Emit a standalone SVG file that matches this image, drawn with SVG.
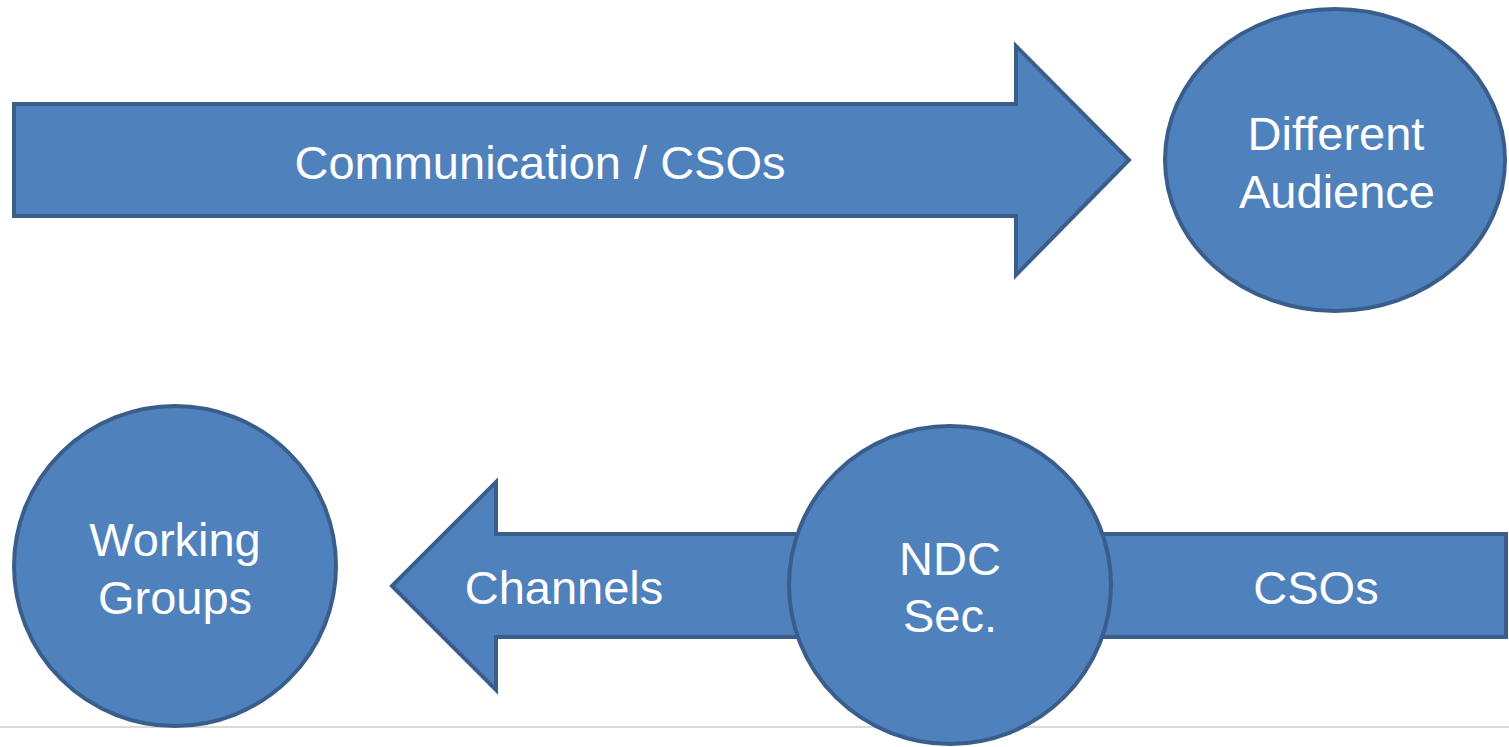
<svg xmlns="http://www.w3.org/2000/svg" width="1509" height="747" viewBox="0 0 1509 747">
<style>
.shape{fill:#4f81bd;stroke:#3a5e8c;stroke-width:4;stroke-linejoin:miter}
.lbl{fill:#ffffff;font-family:"Liberation Sans",Arial,sans-serif;font-size:47px;text-anchor:middle}
</style>
<rect x="0" y="0" width="1509" height="747" fill="#ffffff"/>
<line x1="0" y1="727" x2="1509" y2="727" stroke="#d9d9d9" stroke-width="2"/>
<g id="connectors">
<g id="arrow-communication">
<polygon class="shape" points="14,104 1016,104 1016,46 1129,160 1016,275 1016,216 14,216"/>
<text class="lbl" x="540" y="179">Communication / CSOs</text>
</g>
<g id="arrow-channels">
<polygon class="shape" stroke-linejoin="round" points="392,586 496,482 496,534 900,534 900,637 496,637 496,690"/>
<text class="lbl" x="564" y="604">Channels</text>
</g>
<g id="bar-csos">
<rect class="shape" x="1000" y="534" width="506" height="103"/>
<text class="lbl" x="1316" y="604">CSOs</text>
</g>
</g>
<g id="node-different-audience">
<ellipse class="shape" cx="1335" cy="160" rx="170" ry="151"/>
<text class="lbl" x="1336" y="150">Different</text>
<text class="lbl" x="1337" y="208">Audience</text>
</g>
<g id="node-working-groups">
<ellipse class="shape" cx="175" cy="566" rx="161" ry="160"/>
<text class="lbl" x="175" y="556">Working</text>
<text class="lbl" x="175" y="614">Groups</text>
</g>
<g id="node-ndc-sec">
<ellipse class="shape" cx="950" cy="585" rx="161" ry="159"/>
<text class="lbl" x="950" y="575">NDC</text>
<text class="lbl" x="950" y="632">Sec.</text>
</g>
</svg>
